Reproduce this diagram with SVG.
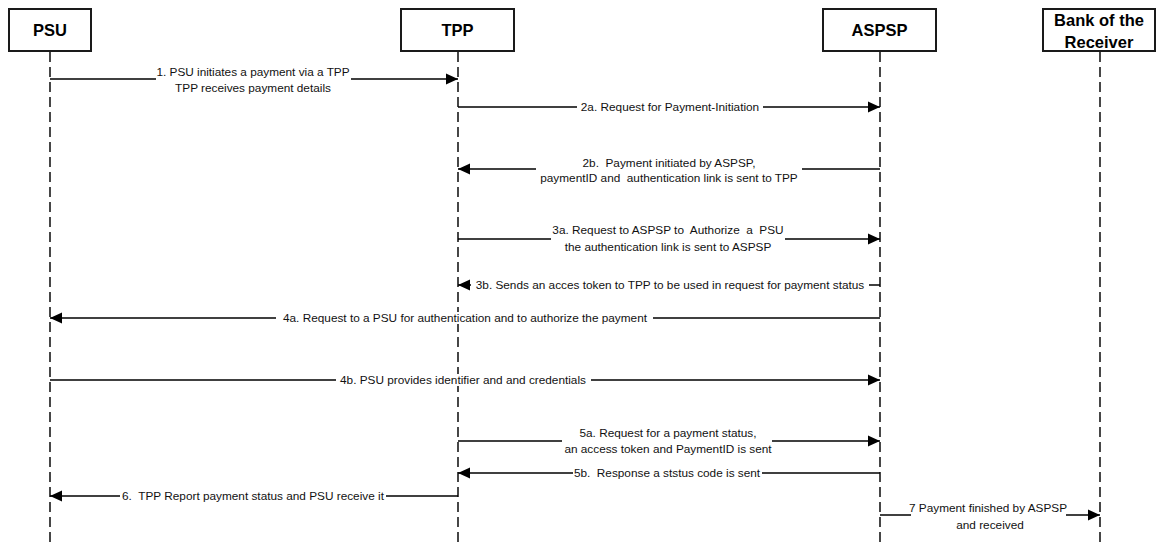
<svg xmlns="http://www.w3.org/2000/svg" width="1156" height="543" viewBox="0 0 1156 543">
  <style>
    .box { fill: #ffffff; stroke: #1a1a1a; stroke-width: 2; }
    .head { font-family: "Liberation Sans", Arial, sans-serif; font-weight: bold; font-size: 16.5px; fill: #000; text-anchor: middle; }
    .life { stroke: #1a1a1a; stroke-width: 1.6; stroke-dasharray: 10 5; fill: none; }
    .msg { stroke: #000; stroke-width: 1.5; fill: none; }
    .lbl { font-family: "Liberation Sans", Arial, sans-serif; font-size: 11.8px; fill: #111; text-anchor: middle; white-space: pre; }
    .mask { fill: #ffffff; }
  </style>
  <defs>
    <marker id="arrow" markerUnits="userSpaceOnUse" markerWidth="13" markerHeight="12" refX="12" refY="6" orient="auto">
      <path d="M0,0.5 L12,6 L0,11.5 Z" fill="#000"/>
    </marker>
  </defs>
  <rect width="1156" height="543" fill="#ffffff"/>

  <!-- participants -->
  <g id="psu">
    <line class="life" x1="50" y1="52" x2="50" y2="543"/>
    <rect class="box" x="9" y="9" width="82" height="42"/>
    <text class="head" x="50" y="36">PSU</text>
  </g>
  <g id="tpp">
    <line class="life" x1="458" y1="52" x2="458" y2="543"/>
    <rect class="box" x="401" y="9" width="113" height="42"/>
    <text class="head" x="457.5" y="36">TPP</text>
  </g>
  <g id="aspsp">
    <line class="life" x1="880" y1="52" x2="880" y2="543"/>
    <rect class="box" x="823" y="9" width="113" height="42"/>
    <text class="head" x="879.5" y="36">ASPSP</text>
  </g>
  <g id="bank">
    <line class="life" x1="1100" y1="52" x2="1100" y2="543"/>
    <rect class="box" x="1043" y="9" width="112" height="42"/>
    <text class="head" x="1099" y="26">Bank of the</text>
    <text class="head" x="1099" y="48">Receiver</text>
  </g>

  <!-- messages -->
  <g id="connectors">
    <!-- 1 -->
    <path class="msg" d="M50,79 H156"/>
    <path class="msg" d="M351,79 H458" marker-end="url(#arrow)"/>
    <text class="lbl" x="253" y="76">1. PSU initiates a payment via a TPP</text>
    <text class="lbl" x="253" y="92">TPP receives payment details</text>

    <!-- 2a -->
    <path class="msg" d="M458,107 H577"/>
    <path class="msg" d="M763,107 H880" marker-end="url(#arrow)"/>
    <text class="lbl" x="670" y="111">2a. Request for Payment-Initiation</text>

    <!-- 2b -->
    <path class="msg" d="M880,169 H802"/>
    <path class="msg" d="M536,169 H458" marker-end="url(#arrow)"/>
    <text class="lbl" x="669" y="167">2b.  Payment initiated by ASPSP,</text>
    <text class="lbl" x="669" y="182">paymentID and  authentication link is sent to TPP</text>

    <!-- 3a -->
    <path class="msg" d="M458,239 H551"/>
    <path class="msg" d="M785,239 H880" marker-end="url(#arrow)"/>
    <text class="lbl" x="668" y="234">3a. Request to ASPSP to  Authorize  a  PSU</text>
    <text class="lbl" x="668" y="251">the authentication link is sent to ASPSP</text>

    <!-- 3b -->
    <path class="msg" d="M880,285 H869"/>
    <path class="msg" d="M471,285 H458" marker-end="url(#arrow)"/>
    <text class="lbl" x="670" y="289">3b. Sends an acces token to TPP to be used in request for payment status</text>

    <!-- 4a -->
    <path class="msg" d="M880,318 H653"/>
    <path class="msg" d="M276,318 H50" marker-end="url(#arrow)"/>
    <rect class="mask" x="453" y="312" width="10" height="12"/>
    <text class="lbl" x="465" y="322">4a. Request to a PSU for authentication and to authorize the payment</text>

    <!-- 4b -->
    <path class="msg" d="M50,380 H336"/>
    <path class="msg" d="M591,380 H880" marker-end="url(#arrow)"/>
    <rect class="mask" x="453" y="374" width="10" height="12"/>
    <text class="lbl" x="463" y="384">4b. PSU provides identifier and and credentials</text>

    <!-- 5a -->
    <path class="msg" d="M458,441 H562"/>
    <path class="msg" d="M772,441 H880" marker-end="url(#arrow)"/>
    <text class="lbl" x="668" y="437">5a. Request for a payment status,</text>
    <text class="lbl" x="668" y="453">an access token and PaymentID is sent</text>

    <!-- 5b -->
    <path class="msg" d="M880,473 H762"/>
    <path class="msg" d="M573,473 H458" marker-end="url(#arrow)"/>
    <text class="lbl" x="667" y="477">5b.  Response a ststus code is sent</text>

    <!-- 6 -->
    <path class="msg" d="M458,496 H386"/>
    <path class="msg" d="M120,496 H50" marker-end="url(#arrow)"/>
    <text class="lbl" x="253" y="500">6.  TPP Report payment status and PSU receive it</text>

    <!-- 7 -->
    <path class="msg" d="M880,515 H911"/>
    <path class="msg" d="M1066,515 H1100" marker-end="url(#arrow)"/>
    <text class="lbl" x="988" y="512">7 Payment finished by ASPSP</text>
    <text class="lbl" x="990" y="529">and received</text>
  </g>
</svg>
